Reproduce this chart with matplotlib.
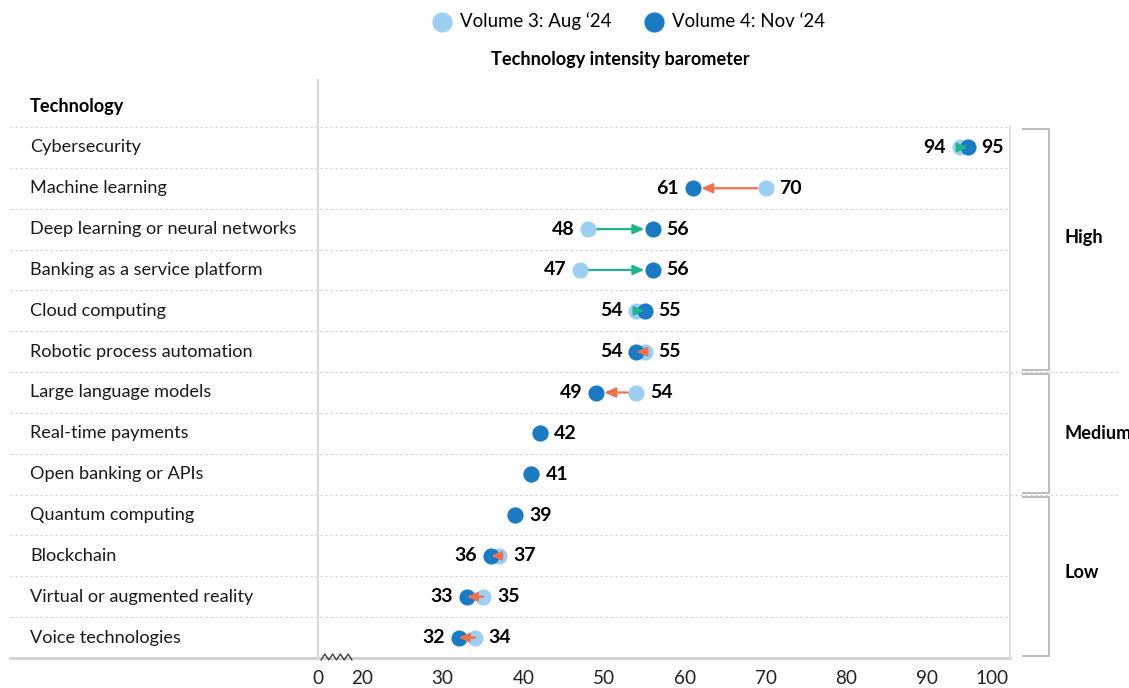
import numpy as np
import matplotlib
matplotlib.use('Agg')
import matplotlib.pyplot as plt
import matplotlib.transforms as mtransforms

#----------------------------------------------------------------------------------------
#       dados do barômetro
#----------------------------------------------------------------------------------------
tecnologias = ['Cybersecurity', 'Machine learning', 'Deep learning or neural networks',
               'Banking as a service platform', 'Cloud computing', 'Robotic process automation',
               'Large language models', 'Real-time payments', 'Open banking or APIs',
               'Quantum computing', 'Blockchain', 'Virtual or augmented reality',
               'Voice technologies']
vol3 = [94, 70, 48, 47, 54, 55, 54, 42, 41, 39, 37, 35, 34]
vol4 = [95, 61, 56, 56, 55, 54, 49, 42, 41, 39, 36, 33, 32]
grupos = ['High', 'Medium', 'Low']
grupo_ini = [0, 6, 9]
grupo_fim = [5, 8, 12]
ticks_val = [20, 30, 40, 50, 60, 70, 80, 90, 100]

#cores
c_claro = '#9dd0f0'
c_escuro = '#1b7bc2'
c_sobe = '#1fb58c'
c_desce = '#f0704f'
c_grade = '#cfcfcf'

plt.rcParams['font.family'] = ['Lato', 'DejaVu Sans']
plt.rcParams['font.size'] = 13.1

W, H = 1129, 688
fig = plt.figure(figsize=(W/100, H/100), dpi=100)
ax = fig.add_axes([318/W, 1-658/H, (1010-318)/W, (658-127)/H])

# eixo quebrado: 0 fica logo antes do 20
x0 = 20 - 44/8.1
n = len(tecnologias)
ax.set_xlim(x0, 100.25)
ax.set_ylim(n-0.5, -0.5)
for s in ax.spines.values():
    s.set_visible(False)
ax.set_yticks([])
ax.set_xticks([x0]+ticks_val)
ax.set_xticklabels(['0']+[str(t) for t in ticks_val])
ax.tick_params(axis='x', length=0, pad=9, labelsize=13.6, labelcolor='#222222')
ax.get_xticklabels()[-1].set_horizontalalignment('right')

y = np.arange(n)
pts3 = ax.scatter(vol3, y, s=135, color=c_claro, zorder=3, label='Volume 3: Aug \u201824', linewidths=0)
pts4 = ax.scatter(vol4, y, s=135, color=c_escuro, zorder=4, label='Volume 4: Nov \u201824', linewidths=0)

# setas e rótulos
for i in range(n):
    a, b = vol3[i], vol4[i]
    if a != b:
        cor = c_sobe if b > a else c_desce
        if abs(b-a) >= 3:
            ax.annotate('', xy=(b, i), xytext=(a, i), zorder=2,
                        arrowprops=dict(arrowstyle='-|>,head_length=0.5,head_width=0.22',
                                        color=cor, lw=1.6, shrinkA=6, shrinkB=6))
        else:
            ax.annotate('', xy=(b, i), xytext=(a, i), zorder=5,
                        arrowprops=dict(arrowstyle='-|>,head_length=0.45,head_width=0.2',
                                        color=cor, lw=1.6, shrinkA=0, shrinkB=0))
        lo, hi = min(a, b), max(a, b)
        ax.annotate(str(lo), (lo, i), xytext=(-10, 0), textcoords='offset points',
                    ha='right', va='center', fontweight='bold', fontsize=14)
        ax.annotate(str(hi), (hi, i), xytext=(10, 0), textcoords='offset points',
                    ha='left', va='center', fontweight='bold', fontsize=14)
    else:
        ax.annotate(str(b), (b, i), xytext=(10, 0), textcoords='offset points',
                    ha='left', va='center', fontweight='bold', fontsize=14)

# linhas de grade e nomes
trans = mtransforms.blended_transform_factory(fig.transFigure, ax.transData)
for k in range(n):
    ax.text(30/W, k, tecnologias[k], transform=trans, ha='left', va='center', color='#1a1a1a')
ax.text(30/W, -1.0, 'Technology', transform=trans, ha='left', va='center', fontweight='bold')

for k in range(n):
    b = k - 0.5
    xe = 1010/W
    if k in grupo_ini[1:]:
        xe = 1118/W
    ax.plot([10/W, xe], [b, b], transform=trans, ls=(0, (2, 2.5)), color=c_grade, lw=0.8, clip_on=False)
ax.plot([10/W, 1010/W], [n-0.5, n-0.5], transform=trans, color='#d0d0d0', lw=2, clip_on=False)

# eixo vertical e borda direita
trans2 = mtransforms.blended_transform_factory(ax.transData, fig.transFigure)
ax.plot([x0, x0], [1-658/H, 1-80/H], transform=trans2, color='#d8d8d8', lw=1.5, clip_on=False)
ax.plot([1010/W, 1010/W], [1-658/H, 1-127/H], transform=fig.transFigure, color='#dddddd', lw=1.5, clip_on=False)

# zigue-zague da quebra
zx = np.linspace(321, 352, 9)
zy = np.where(np.arange(9) % 2 == 0, 660, 654)
ax.plot(zx/W, 1-zy/H, transform=fig.transFigure, color='#333333', lw=0.9, clip_on=False)

# chaves dos grupos (o "Medium" sai cortado na borda, como no original)
rot_y = [2.2, 7.0, 10.4]
for g in range(len(grupos)):
    top = grupo_ini[g] - 0.5 + 0.05
    bot = grupo_fim[g] + 0.5 - 0.05
    ax.plot([1023/W, 1049/W, 1049/W, 1023/W], [top, top, bot, bot], transform=trans,
            color='#bdbdbd', lw=1.5, clip_on=False)
    ax.text(1064/W, rot_y[g], grupos[g], transform=trans,
            ha='left', va='center', fontweight='bold')

# legenda e título
fig.legend(handles=[pts3, pts4], loc='center', bbox_to_anchor=(628/W, 1-21/H), ncol=2,
           frameon=False, markerscale=1.25, handletextpad=0.35, columnspacing=1.7,
           fontsize=13.4, handlelength=1.2)
fig.text(620/W, 1-59/H, 'Technology intensity barometer', ha='center', va='center',
         fontweight='bold')

plt.savefig('out.png', dpi=100)
